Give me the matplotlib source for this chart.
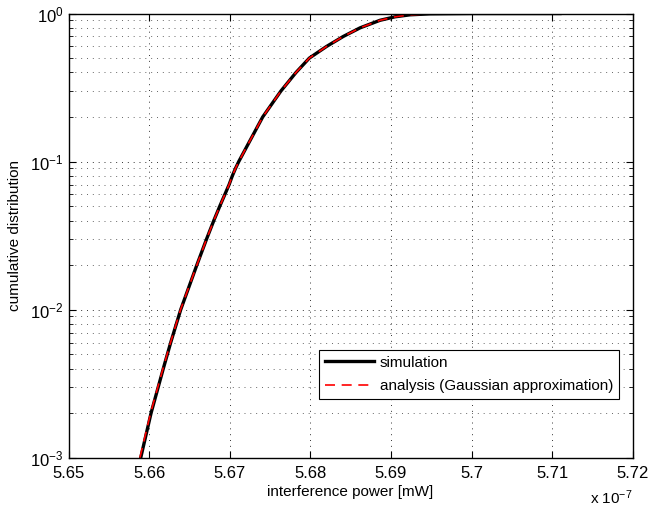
import matplotlib
matplotlib.use('Agg')
import matplotlib.pyplot as plt
from matplotlib.ticker import LogLocator, FixedLocator
import numpy as np

plt.rcParams['font.family'] = ['Liberation Sans', 'DejaVu Sans']
plt.rcParams['mathtext.fontset'] = 'custom'
plt.rcParams['mathtext.rm'] = 'Liberation Sans'
plt.rcParams['mathtext.it'] = 'Liberation Sans:italic'

# interference power (x 1e-7 mW) and cumulative distribution
sim_power = [5.65896, 5.66024, 5.66176, 5.66268, 5.66392, 5.66592, 5.66713,
             5.66803, 5.66877, 5.66940, 5.66993, 5.67032, 5.67072, 5.67112,
             5.67409, 5.67636, 5.67823, 5.67988, 5.68203, 5.68409, 5.68617,
             5.68865, 5.69051, 5.69237, 5.69485, 5.70006, 5.71098]
sim_cdf = [0.001, 0.002, 0.004, 0.006, 0.01, 0.02, 0.03,
           0.04, 0.05, 0.06, 0.07, 0.08, 0.09, 0.10,
           0.20, 0.30, 0.40, 0.50, 0.60, 0.70, 0.80,
           0.90, 0.95, 0.98, 0.995, 1.0, 1.0]
ana_power = [5.65886, 5.66018, 5.66172, 5.66266, 5.66390, 5.66592, 5.66713,
             5.66803, 5.66877, 5.66940, 5.66993, 5.67032, 5.67072, 5.67112,
             5.67409, 5.67636, 5.67823, 5.67988, 5.68203, 5.68409, 5.68617,
             5.68865, 5.69051, 5.69237, 5.69485, 5.70006, 5.71098]
ana_cdf = [0.001, 0.002, 0.004, 0.006, 0.01, 0.02, 0.03,
           0.04, 0.05, 0.06, 0.07, 0.08, 0.09, 0.10,
           0.20, 0.30, 0.40, 0.50, 0.60, 0.70, 0.80,
           0.90, 0.95, 0.98, 0.995, 1.0, 1.0]

xticks = [5.65, 5.66, 5.67, 5.68, 5.69, 5.70, 5.71, 5.72]
xticklabels = ['5.65', '5.66', '5.67', '5.68', '5.69', '5.7', '5.71', '5.72']

fig = plt.figure(figsize=(6.5, 5.12), dpi=100)
ax = fig.add_axes([0.1054, 0.106, 0.868, 0.8676])

ax.semilogy(sim_power, sim_cdf, color='k', lw=2.4, label='simulation')
ax.semilogy(ana_power, ana_cdf, color='#ff0000', lw=1.2, dashes=(6, 4),
            label='analysis (Gaussian approximation)')

ax.set_xlim(5.65, 5.72)
ax.set_ylim(1e-3, 1)
ax.xaxis.set_major_locator(FixedLocator(xticks))
ax.set_xticklabels(xticklabels)
ax.yaxis.set_major_locator(LogLocator(base=10, numticks=10))
ax.yaxis.set_minor_locator(LogLocator(base=10, subs=np.arange(2, 10), numticks=10))
ax.yaxis.set_minor_formatter(plt.NullFormatter())

ax.tick_params(which='both', direction='in', top=True, right=True, labelsize=12)
ax.tick_params(which='major', length=5, width=0.8)
ax.tick_params(which='minor', length=3, width=0.6)
ax.tick_params(axis='x', pad=6)

grid_style = dict(ls=(0, (1, 5)), color='k', lw=0.7)
ax.grid(True, which='major', alpha=0.8, **grid_style)
ax.grid(True, which='minor', axis='y', alpha=0.6, **grid_style)
for s in ax.spines.values():
    s.set_linewidth(1.0)

ax.set_xlabel('interference power [mW]', fontsize=11, labelpad=3)
ax.set_ylabel('cumulative distribution', fontsize=11, labelpad=6)
ax.text(1.0, -0.068, r'x 10$^{-7}$', transform=ax.transAxes, fontsize=11,
        ha='right', va='top')

leg = ax.legend(loc='lower right', bbox_to_anchor=(0.99, 0.115), fontsize=11,
                fancybox=False, framealpha=1, edgecolor='k', handlelength=3.2,
                borderpad=0.4, labelspacing=0.6, handletextpad=0.4)
leg.get_frame().set_linewidth(0.8)

fig.savefig('out.png', dpi=100)
